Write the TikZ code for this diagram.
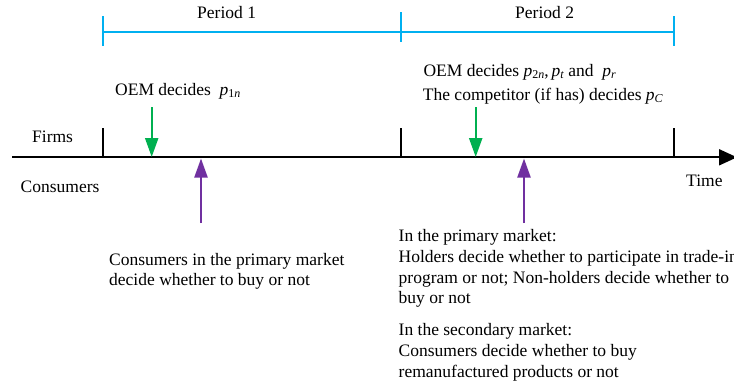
\documentclass[tikz,border=0pt]{standalone}
\usepackage{fontspec}
\setmainfont{Liberation Serif}
\usetikzlibrary{arrows.meta}
\definecolor{oemgreen}{RGB}{0,176,80}
\definecolor{conspurple}{RGB}{112,48,160}
\definecolor{perblue}{RGB}{0,176,240}
\newcommand{\pvar}[1]{\textit{p}\raisebox{-0.35ex}{\fontsize{12}{12}\selectfont #1}}
\begin{document}
\begin{tikzpicture}[x=1pt,y=-1pt,
  txt/.style={inner sep=0pt, anchor=base west, font=\fontsize{17.5}{21}\selectfont},
  axis/.style={line width=2pt, -{Triangle[width=16pt,length=18pt]}},
  tick/.style={line width=2pt},
  pertick/.style={line width=2pt, draw=perblue},
  greenarrow/.style={line width=2.2pt, draw=oemgreen, -{Triangle[width=13pt,length=19pt,fill=oemgreen]}},
  purplearrow/.style={line width=2.2pt, draw=conspurple, -{Triangle[width=13pt,length=19pt,fill=conspurple]}}]
\clip (0,0) rectangle (734,389);
\fill[white] (0,0) rectangle (734,389);
% axis
\coordinate (axL) at (12,157.3);
\coordinate (axR) at (737,157.3);
\draw[axis] (axL) -- (axR);
% black ticks
\coordinate (t1b) at (102.5,157.3); \coordinate (t1t) at (102.5,128);
\coordinate (t2b) at (400.5,157.3); \coordinate (t2t) at (400.5,128);
\coordinate (t3b) at (673.5,157.3); \coordinate (t3t) at (673.5,128);
\draw[tick] (t1b) -- (t1t);
\draw[tick] (t2b) -- (t2t);
\draw[tick] (t3b) -- (t3t);
% period bar
\coordinate (pL) at (102.5,32); \coordinate (pM) at (400.5,32); \coordinate (pR) at (673.5,32);
\draw[pertick] (pL) -- (pR);
\coordinate (pLt) at (102.5,16); \coordinate (pLb) at (102.5,46);
\coordinate (pMt) at (400.5,12); \coordinate (pMb) at (400.5,42);
\coordinate (pRt) at (673.5,16); \coordinate (pRb) at (673.5,46);
\draw[pertick] (pLt) -- (pLb);
\draw[pertick] (pMt) -- (pMb);
\draw[pertick] (pRt) -- (pRb);
\node[txt] (per1) at (197,18.5) {Period 1};
\node[txt] (per2) at (515,18) {Period 2};
% labels
\node[txt] (firms) at (32,142.7) {Firms};
\node[txt] (cons) at (20.5,192.7) {Consumers};
\node[txt] (time) at (686,186.7) {Time};
\node[txt] (oem1) at (115,95) {OEM decides \ \pvar{1\textit{n}}};
\node[txt] (oem2) at (423.3,76) {OEM decides \pvar{2\textit{n}},\,\pvar{\textit{t}} and \ \pvar{\textit{r}}};
\node[txt] (comp) at (422.7,100) {The competitor (if has) decides \pvar{\textit{C}}};
% green arrows
\coordinate (g1s) at (151.7,107); \coordinate (g1e) at (151.7,157);
\coordinate (g2s) at (475.7,107); \coordinate (g2e) at (475.7,157);
\draw[greenarrow] (g1s) -- (g1e);
\draw[greenarrow] (g2s) -- (g2e);
% purple arrows
\coordinate (u1s) at (201,223); \coordinate (u1e) at (201,158.5);
\coordinate (u2s) at (524,223); \coordinate (u2e) at (524,158.5);
\draw[purplearrow] (u1s) -- (u1e);
\draw[purplearrow] (u2s) -- (u2e);
% consumer texts
\node[txt] (c1a) at (109,265) {Consumers in the primary market};
\node[txt] (c1b) at (109,285.5) {decide whether to buy or not};
\node[txt] (c2a) at (398.5,241.7) {In the primary market:};
\node[txt] (c2b) at (398.5,262.5) {Holders decide whether to participate in trade-in};
\node[txt] (c2c) at (398.5,283) {program or not; Non-holders decide whether to};
\node[txt] (c2d) at (398.5,303) {buy or not};
\node[txt] (c3a) at (398.5,335) {In the secondary market:};
\node[txt] (c3b) at (398.5,356) {Consumers decide whether to buy};
\node[txt] (c3c) at (398.5,377) {remanufactured products or not};
\end{tikzpicture}
\end{document}
